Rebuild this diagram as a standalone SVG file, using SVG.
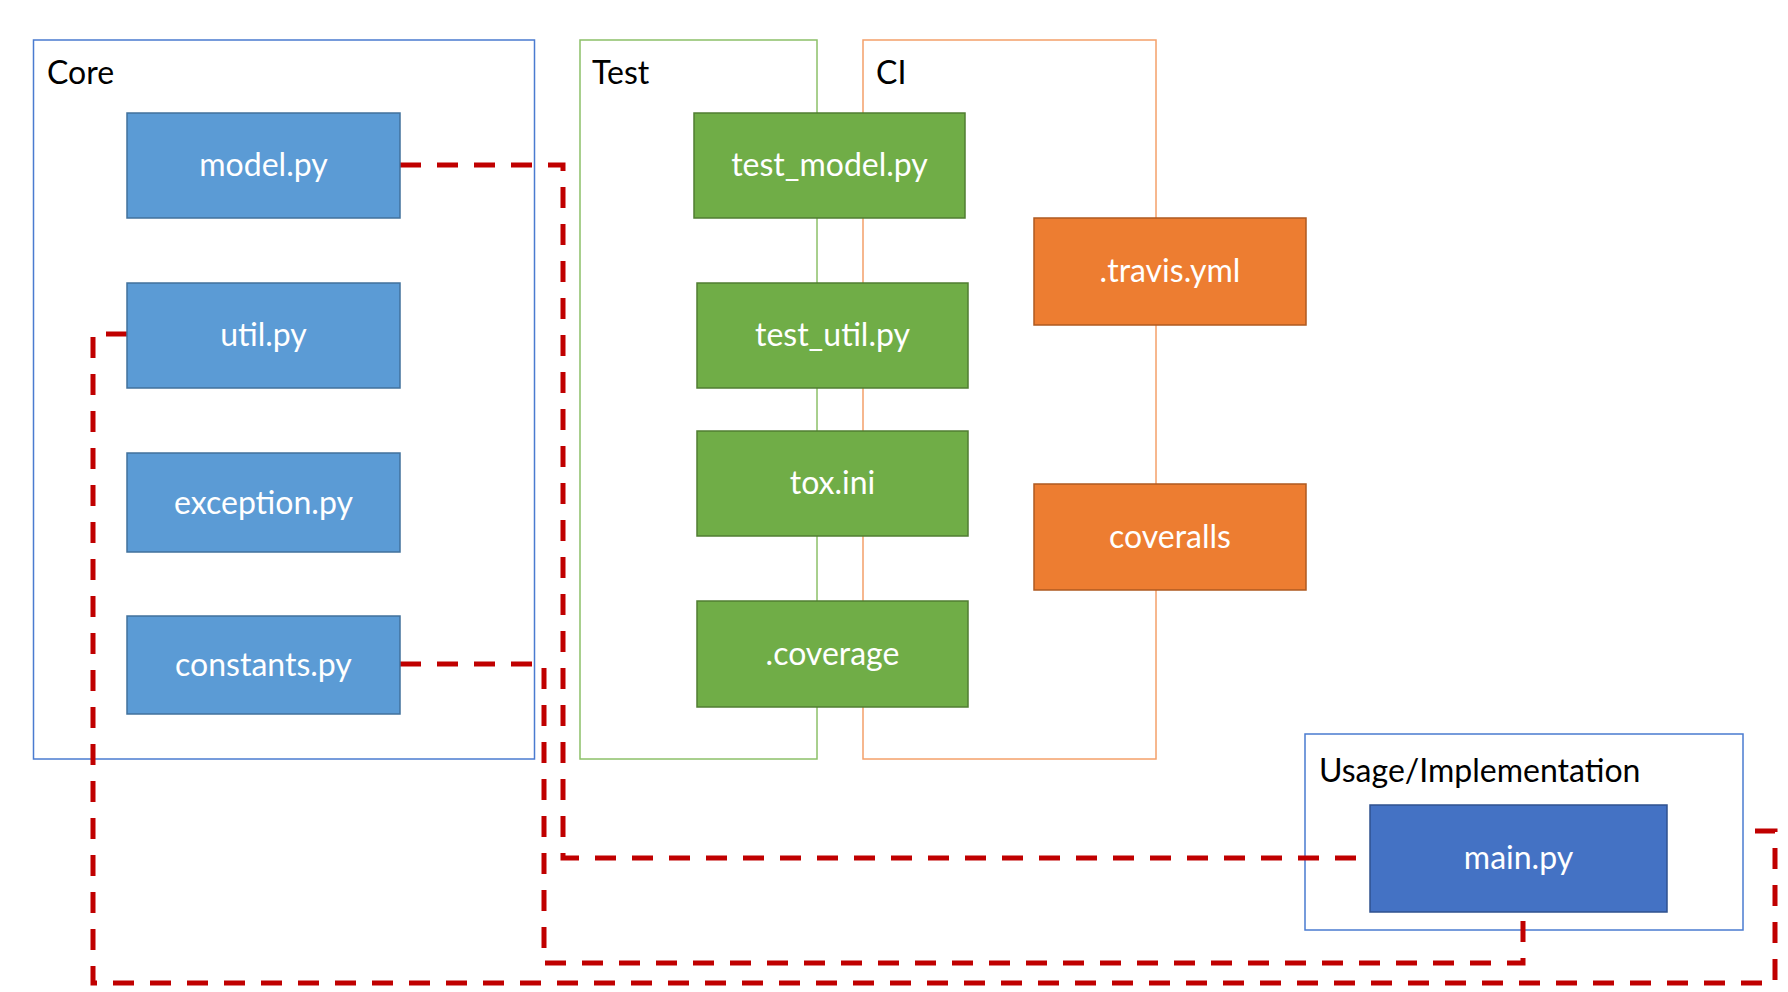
<svg xmlns="http://www.w3.org/2000/svg" width="1788" height="992" viewBox="0 0 1788 992">
<style>
.bg{fill:#ffffff}
.cont{fill:none;stroke-width:1.5}
.c-blue{stroke:#4A7BD0}
.c-green{stroke:#8CC068}
.c-orange{stroke:#F4A06A}
.lbl{font-family:Lato,"Liberation Sans",sans-serif;font-size:32px;fill:#000000}
.ntxt{font-family:Lato,"Liberation Sans",sans-serif;font-size:32px;fill:#ffffff;text-anchor:middle}
.n-core{fill:#5B9BD5;stroke:#41719C;stroke-width:1.5}
.n-test{fill:#70AD47;stroke:#507E32;stroke-width:1.5}
.n-ci{fill:#ED7D31;stroke:#AE5A21;stroke-width:1.5}
.n-main{fill:#4472C4;stroke:#2F528F;stroke-width:1.5}
.link{fill:none;stroke:#C00000;stroke-width:5;stroke-dasharray:21 16}
</style>
<rect class="bg" x="0" y="0" width="1788" height="992"/>
<g id="containers">
<g id="core"><rect class="cont c-blue" x="33.5" y="40" width="501" height="719"/><text class="lbl" x="47" y="84">Core</text></g>
<g id="test"><rect class="cont c-green" x="580" y="40" width="237" height="719"/><text class="lbl" x="592" y="84">Test</text></g>
<g id="ci"><rect class="cont c-orange" x="863" y="40" width="293" height="719"/><text class="lbl" x="876" y="84">CI</text></g>
<g id="usage"><rect class="cont c-blue" x="1305" y="734" width="438" height="196"/><text class="lbl" x="1319" y="782">Usage/Implementation</text></g>
</g>
<g id="connectors">
<path class="link" d="M400,165 H563 V858 H1370"/>
<path class="link" d="M127,334 H93 V983 H1775 V831 H1743"/>
<path class="link" d="M400,664 H544 V963 H1523 V912"/>
</g>
<g id="model"><rect class="n-core" x="127" y="113" width="273" height="105"/><text class="ntxt" x="263.5" y="176">model.py</text></g>
<g id="util"><rect class="n-core" x="127" y="283" width="273" height="105"/><text class="ntxt" x="263.5" y="346">util.py</text></g>
<g id="exception"><rect class="n-core" x="127" y="453" width="273" height="99"/><text class="ntxt" x="263.5" y="514">exception.py</text></g>
<g id="constants"><rect class="n-core" x="127" y="616" width="273" height="98"/><text class="ntxt" x="263.5" y="676">constants.py</text></g>
<g id="test_model"><rect class="n-test" x="694" y="113" width="271" height="105"/><text class="ntxt" x="829.5" y="176">test_model.py</text></g>
<g id="test_util"><rect class="n-test" x="697" y="283" width="271" height="105"/><text class="ntxt" x="832.5" y="346">test_util.py</text></g>
<g id="tox"><rect class="n-test" x="697" y="431" width="271" height="105"/><text class="ntxt" x="832.5" y="494">tox.ini</text></g>
<g id="coverage"><rect class="n-test" x="697" y="601" width="271" height="106"/><text class="ntxt" x="832.5" y="665">.coverage</text></g>
<g id="travis"><rect class="n-ci" x="1034" y="218" width="272" height="107"/><text class="ntxt" x="1170" y="282">.travis.yml</text></g>
<g id="coveralls"><rect class="n-ci" x="1034" y="484" width="272" height="106"/><text class="ntxt" x="1170" y="548">coveralls</text></g>
<g id="main"><rect class="n-main" x="1370" y="805" width="297" height="107"/><text class="ntxt" x="1518.5" y="869">main.py</text></g>
</svg>
